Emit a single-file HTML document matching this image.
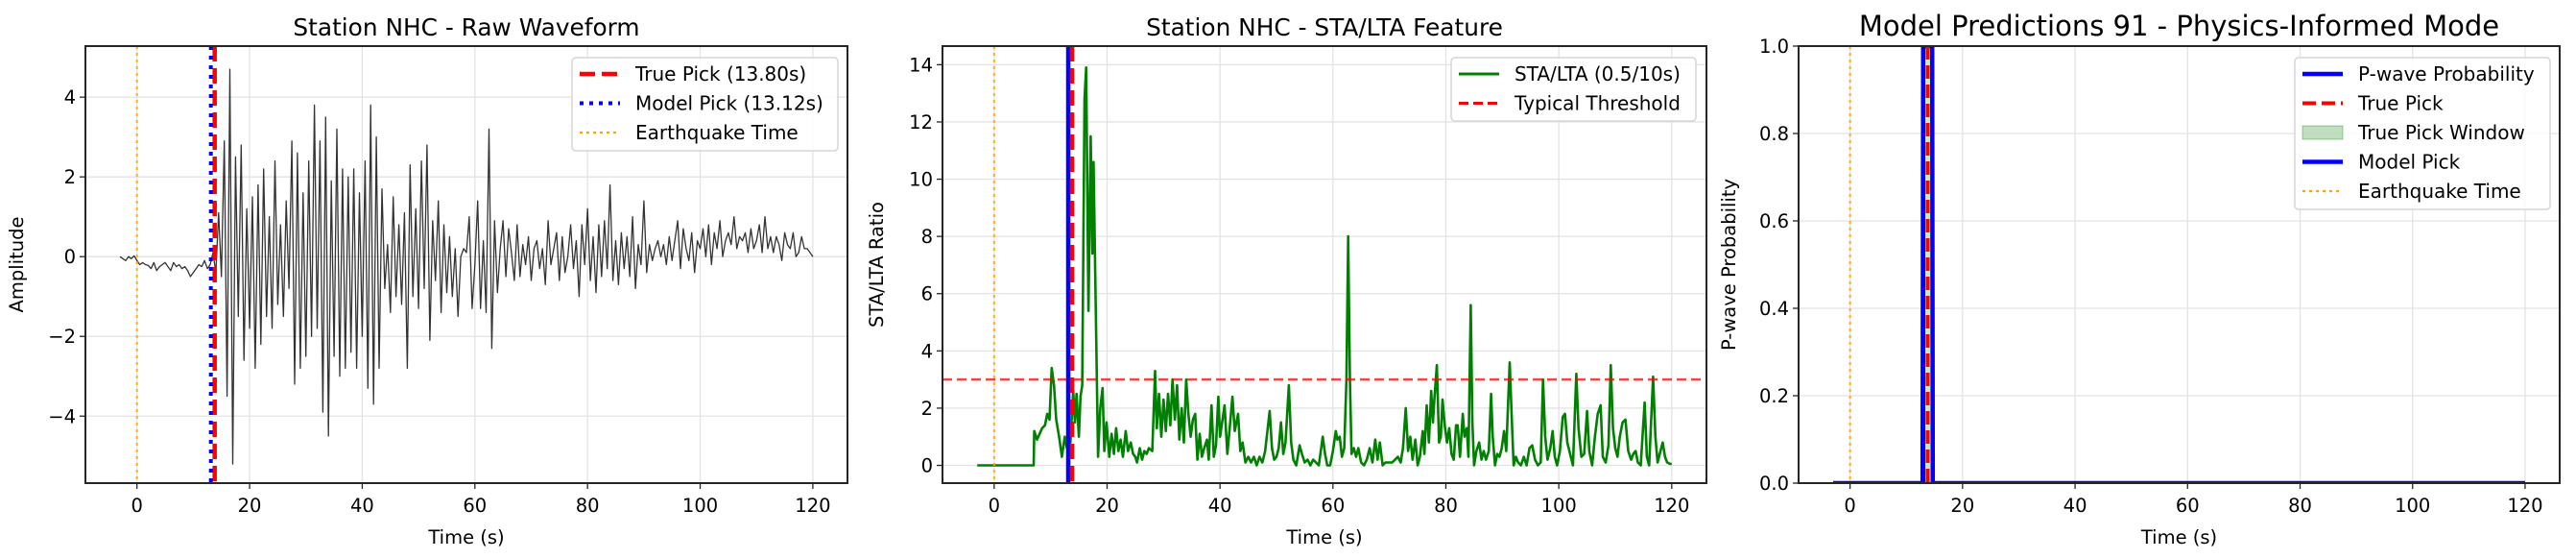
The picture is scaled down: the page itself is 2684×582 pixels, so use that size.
<!DOCTYPE html>
<html><head><meta charset="utf-8">
<style>
html,body{margin:0;padding:0;background:#fff;}
svg{display:block;font-family:"DejaVu Sans","Liberation Sans",sans-serif;}
</style></head>
<body>
<svg id="fig" xmlns="http://www.w3.org/2000/svg" width="2684" height="582" viewBox="0 0 2684 582"></svg>
<script>
// ---------- DATA ----------
const waveStart = -3;
const waveStep = 0.5;
const waveAmp = [0,-0.05,-0.1,0,-0.05,0.02,-0.1,-0.2,-0.15,-0.2,-0.22,-0.3,-0.15,-0.35,-0.25,-0.2,-0.15,-0.25,-0.35,-0.15,-0.25,-0.2,-0.3,-0.25,-0.35,-0.5,-0.4,-0.3,-0.2,-0.25,-0.1,-0.3,-0.2,0.1,-0.4,
1.1,-0.5,2.9,-3.5,4.7,-5.2,2.5,-1.5,2.8,-2.6,1.2,-1.8,1.5,-2.8,1.8,-2.2,2.2,-1.5,1.0,-1.8,2.4,-1.2,0.8,-1.5,1.4,-0.8,2.9,-3.2,2.6,-2.8,1.6,-2.5,2.4,-2.0,3.8,-1.8,2.9,-3.9,3.5,-4.5,1.9,-2.5,3.2,-3.0,2.2,-2.8,2.0,-2.4,2.2,-2.8,1.6,-2.0,2.4,-3.3,3.8,-3.7,3.0,-2.8,1.7,-0.8,0.3,-1.4,1.5,-1.0,0.8,-1.2,1.1,-2.8,2.3,-1.0,1.2,-1.3,2.4,-0.8,2.8,-2.1,0.9,-0.6,1.4,-1.4,0.8,-0.9,0.5,-1.0,0.2,-1.5,0.0,0.2,0.1,1.0,-1.3,-0.2,1.4,-1.3,0.4,-1.4,3.2,-2.3,0.9,-0.9,0.2,0.9,-0.5,0.7,0.1,-0.6,0.8,-0.5,0.3,-0.2,0.5,-0.6,0.2,0.4,-0.3,0.2,-0.7,0.9,-0.2,0.2,0.6,-0.6,0.5,-0.4,0.0,0.8,-0.3,0.4,-1.0,0.8,-0.2,1.2,-0.6,0.5,-0.9,0.8,-0.5,0.9,-0.3,1.8,-0.6,0.4,-0.7,0.6,-0.3,0.5,-0.5,1.0,-0.8,0.3,-0.2,1.4,-0.4,0.3,-0.1,0.2,0.4,0.0,0.3,-0.2,0.5,-0.1,0.4,0.9,-0.3,0.7,0.2,-0.1,0.6,-0.4,0.4,0.2,0.7,0.0,0.8,-0.2,0.6,0.2,0.9,0.0,0.4,0.6,0.3,1.0,0.2,0.5,0.4,0.6,0.1,0.7,0.2,0.4,0.8,0.1,1.0,0.2,0.5,0.1,0.5,0.3,-0.1,0.6,0.3,0.2,0.6,0.0,0.1,0.5,0.2,0.2,0.1,0.0];

const staTime = [-3,7,7.1,7.6,8.5,9,9.4,9.8,10.2,10.6,11,11.5,12,12.5,12.9,13.5,14,14.3,14.6,15,15.3,15.6,16,16.3,16.7,17.1,17.4,17.6,17.9,18.4,18.8,19.2,19.5,19.9,20.4,20.8,21.2,21.6,22,22.4,22.8,23.3,23.7,24.2,24.6,25,25.3,25.8,26.2,26.6,27,27.4,28,28.5,28.8,29.2,29.6,30,30.4,30.8,31.2,31.6,32,32.4,32.8,33.2,33.6,34,34.4,34.8,35.2,35.6,36,36.4,36.8,37.2,37.7,38,38.5,38.9,39.3,39.7,
40,40.8,41.3,41.8,42.2,42.6,43.2,43.6,44,44.5,45,45.5,46,46.5,47,47.5,48,48.8,49.2,49.6,50,50.4,50.8,51.2,51.6,52.2,52.6,53,53.5,54.1,54.5,55,55.5,56,56.5,57,57.5,58.2,58.6,59,59.5,60,60.5,60.8,61.2,61.6,62,62.4,62.7,63,63.3,63.7,64.1,64.5,65,65.5,66,66.5,67,67.5,67.9,68.3,68.8,69.3,70,70.5,71,71.5,72,72.4,72.9,73.3,73.7,74.1,74.6,75,75.4,75.9,76.2,76.6,77,77.4,77.7,78,78.4,78.8,79.1,79.4,79.8,80.2,80.6,81,81.4,81.8,82.1,82.5,83,83.3,83.7,84,84.4,84.7,85,85.4,85.9,86.3,86.7,87.1,87.6,88,88.3,88.7,89.1,89.5,89.9,90.3,90.7,91.3,91.7,92,92.4,92.8,93.3,93.8,94.3,94.8,95.3,95.8,96.3,96.8,97.2,97.6,98,98.5,98.9,99.3,99.7,100.2,100.7,101.1,101.5,102,102.5,103.1,103.5,104,104.5,105,105.4,105.9,106.4,106.9,107.4,107.8,108.3,108.8,109.2,109.6,110,110.4,110.8,111.3,111.8,112.3,112.8,113.2,113.6,114,114.5,115.2,115.6,116,116.7,117.1,117.5,118,118.4,118.8,119.2,119.7,120];
const staRatio = [0,0,1.2,0.9,1.3,1.4,1.8,1.6,3.4,2.8,1.6,1.0,0.3,1.0,0.6,0.8,2.6,1.5,2.5,1.0,2.4,2.8,12.8,13.9,5.4,11.5,7.4,10.6,6.8,0.3,2.0,2.7,0.5,1.5,0.3,1.1,0.4,1.3,0.5,0.9,0.3,1.2,0.5,0.8,0.4,0.3,0.1,0.6,0.2,0.5,0.4,0.6,0.5,3.3,1.3,2.5,1.0,2.3,1.2,2.5,1.4,3.0,1.6,2.8,0.9,2.0,0.8,3.0,1.8,1.0,1.6,1.8,0.2,1.1,0.3,0.6,0.9,0.2,2.1,0.3,0.7,2.4,
1.0,2.1,0.4,1.5,2.4,1.2,1.8,0.5,0.8,0.1,0.3,0.1,0.3,0.0,0.3,0.1,0.5,1.9,0.6,0.2,0.3,0.6,1.5,0.4,0.8,2.8,0.8,0.2,0.0,0.7,0.4,0.1,0.2,0.0,0.2,0.1,0.0,1.0,0.4,0.0,0.0,0.5,1.2,0.9,1.0,0.3,0.6,3.0,8.0,3.0,0.4,0.6,0.3,0.6,0.1,0.0,0.2,0.6,0.1,0.9,0.2,0.8,0.0,0.1,0.1,0.1,0.2,0.3,0.1,0.6,2.0,0.5,1.0,0.2,0.9,0.0,0.3,1.2,0.4,2.1,0.8,2.6,1.5,2.4,3.5,0.8,1.0,2.3,1.4,0.8,1.3,0.4,0.2,1.4,1.4,0.3,1.8,1.0,1.3,0.3,5.6,1.5,0.0,0.5,0.8,0.2,0.5,0.2,0.5,2.5,1.0,0.0,0.4,0.3,0.6,1.2,0.5,3.6,1.5,0.0,0.3,0.1,0.0,0.3,0.0,0.6,0.7,0.2,0.0,0.1,3.0,1.0,0.2,0.6,1.2,0.3,0.0,0.5,1.7,1.8,0.8,0.4,0.0,3.2,1.3,0.3,0.4,1.9,0.5,0.0,1.0,1.8,2.1,0.3,0.1,0.7,3.5,1.3,0.6,0.3,1.0,1.5,1.6,0.5,0.2,0.4,0.5,0.1,0.0,2.2,0.3,0.0,3.1,1.0,0.1,0.5,0.8,0.3,0.1,0.05,0.05];

const probTime = [-3,12.9,13.0,14.6,14.7,120];
const probValue = [0,0,1,1,0,0];

const truePick = 13.80;
const modelPick = 13.12;
const quakeTime = 0;
const threshold = 3;
const windowRange = [13.3, 14.3];

const xTicks = [0,20,40,60,80,100,120];
const waveYTicks = [-4,-2,0,2,4];
const waveYTickLabels = ["\u22124","\u22122","0","2","4"];
const staYTicks = [0,2,4,6,8,10,12,14];
const probYTicks = [0,0.2,0.4,0.6,0.8,1.0];
const probYTickLabels = ["0.0","0.2","0.4","0.6","0.8","1.0"];

// ---------- HELPERS ----------
const NS = "http://www.w3.org/2000/svg";
const fig = document.getElementById('fig');
function el(tag, attrs, parent){
  const e = document.createElementNS(NS, tag);
  for (const k in attrs) e.setAttribute(k, attrs[k]);
  (parent||fig).appendChild(e);
  return e;
}
function makeAxes(L, R, T, B, xmin, xmax, ymin, ymax){
  return {
    x: v => L + (v - xmin) / (xmax - xmin) * (R - L),
    y: v => B - (v - ymin) / (ymax - ymin) * (B - T),
    L, R, T, B
  };
}
function drawFrame(ax, name, yTicks, yLabels, title, titleSize, ylabel, ylabelX){
  const g = el('g', {});
  
  
  const clipId = name + '-clip';
  const cp = el('clipPath', {id: clipId}, g);
  el('rect', {x: ax.L, y: ax.T, width: ax.R-ax.L, height: ax.B-ax.T}, cp);
  xTicks.forEach(t => {
    const ln = el('line', {x1: ax.x(t), x2: ax.x(t), y1: ax.T, y2: ax.B, stroke: '#e3e3e3', 'stroke-width': 1.3}, g);
    
    
  });
  yTicks.forEach(t => {
    const ln = el('line', {x1: ax.L, x2: ax.R, y1: ax.y(t), y2: ax.y(t), stroke: '#e3e3e3', 'stroke-width': 1.3}, g);
    
    
  });
  const plot = el('g', {'clip-path': 'url(#' + clipId + ')'}, g);
  xTicks.forEach(t => {
    el('line', {x1: ax.x(t), x2: ax.x(t), y1: ax.B, y2: ax.B+6, stroke: '#262626', 'stroke-width': 1.3}, g);
    const tx = el('text', {x: ax.x(t), y: ax.B+30, 'font-size': 19.5, 'text-anchor': 'middle', fill: '#000'}, g);
    tx.textContent = t;
    
    
  });
  yTicks.forEach((t,i) => {
    el('line', {x1: ax.L-6, x2: ax.L, y1: ax.y(t), y2: ax.y(t), stroke: '#262626', 'stroke-width': 1.3}, g);
    const tx = el('text', {x: ax.L-10, y: ax.y(t)+7, 'font-size': 19.5, 'text-anchor': 'end', fill: '#000'}, g);
    tx.textContent = yLabels ? yLabels[i] : t;
    
    
  });
  const ttl = el('text', {x: (ax.L+ax.R)/2, y: 37, 'font-size': titleSize, 'text-anchor': 'middle', fill: '#000'}, g);
  ttl.textContent = title;
  
  
  const xl = el('text', {x: (ax.L+ax.R)/2, y: 566, 'font-size': 19.5, 'text-anchor': 'middle', fill: '#000'}, g);
  xl.textContent = 'Time (s)';
  
  
  const cy = (ax.T+ax.B)/2;
  const yl = el('text', {x: ylabelX, y: cy, 'font-size': 19.5, 'text-anchor': 'middle', fill: '#000', transform: 'rotate(-90 ' + ylabelX + ' ' + cy + ')'}, g);
  yl.textContent = ylabel;
  
  
  return {g, plot};
}
function drawBorder(ax, g){
  const r = el('rect', {x: ax.L, y: ax.T, width: ax.R-ax.L, height: ax.B-ax.T, fill: 'none', stroke: '#262626', 'stroke-width': 2}, g);
  
  
}
function vline(ax, parent, t, color, width, dash, name){
  const ln = el('line', {x1: ax.x(t), x2: ax.x(t), y1: ax.T, y2: ax.B, stroke: color, 'stroke-width': width}, parent);
  if (dash) ln.setAttribute('stroke-dasharray', dash);
  
  
  return ln;
}
function legend(x, y, w, h, entries, name){
  const g = el('g', {});
  
  
  el('rect', {x, y, width: w, height: h, rx: 4, fill: '#fff', 'fill-opacity': 0.85, stroke: '#d6d6d6', 'stroke-width': 1.5}, g);
  entries.forEach((e, i) => {
    const cy = y + 17 + i*30.5;
    if (e.patch) {
      el('rect', {x: x+8, y: cy-7, width: 42, height: 14, fill: e.color, 'fill-opacity': 0.25, stroke: e.color, 'stroke-opacity': 0.35}, g);
    } else {
      const ln = el('line', {x1: x+8, x2: x+50, y1: cy, y2: cy, stroke: e.color, 'stroke-width': e.w}, g);
      if (e.dash) ln.setAttribute('stroke-dasharray', e.dash);
    }
    const t = el('text', {x: x+66, y: cy+7, 'font-size': 20, fill: '#000'}, g);
    t.textContent = e.label;
    
    
  });
}

// ---------- PANEL 1: waveform ----------
(function(){
  const ax = makeAxes(89, 883, 48, 503, -9.15, 126.15, -5.68, 5.28);
  const {g, plot} = drawFrame(ax, 'raw-waveform-panel', waveYTicks, waveYTickLabels, 'Station NHC - Raw Waveform', 24.8, 'Amplitude', 24);
  let d = '';
  waveAmp.forEach((v, i) => {
    const t = waveStart + i*waveStep;
    d += (i ? 'L' : 'M') + ax.x(t).toFixed(1) + ' ' + ax.y(v).toFixed(1);
  });
  const p = el('path', {d, fill: 'none', stroke: '#000', 'stroke-opacity': 0.8, 'stroke-width': 1.3, 'stroke-linejoin': 'round'}, plot);
  
  
  vline(ax, plot, truePick, '#ff0000', 4.5, '16,7', 'true-pick-line');
  vline(ax, plot, modelPick, '#0000ff', 4, '4,6', 'model-pick-line');
  vline(ax, plot, quakeTime, 'orange', 2.2, '3,4', 'earthquake-time-line').setAttribute('stroke-opacity', 0.8);
  drawBorder(ax, g);
  legend(596, 60, 277, 97, [
    {label: 'True Pick (13.80s)', color: '#ff0000', w: 4.5, dash: '16,7'},
    {label: 'Model Pick (13.12s)', color: '#0000ff', w: 4, dash: '4,6'},
    {label: 'Earthquake Time', color: 'orange', w: 2.2, dash: '3,4'}
  ], 'waveform-legend');
})();

// ---------- PANEL 2: STA/LTA ----------
(function(){
  const ax = makeAxes(982, 1778, 48, 503, -9.15, 126.15, -0.62, 14.65);
  const {g, plot} = drawFrame(ax, 'sta-lta-panel', staYTicks, null, 'Station NHC - STA/LTA Feature', 24.8, 'STA/LTA Ratio', 920);
  let d = '';
  staTime.forEach((t, i) => {
    d += (i ? 'L' : 'M') + ax.x(t).toFixed(1) + ' ' + ax.y(staRatio[i]).toFixed(1);
  });
  const p = el('path', {d, fill: 'none', stroke: 'green', 'stroke-width': 2.6, 'stroke-linejoin': 'round'}, plot);
  
  
  const th = el('line', {x1: ax.L, x2: ax.R, y1: ax.y(threshold), y2: ax.y(threshold), stroke: '#ff0000', 'stroke-opacity': 0.75, 'stroke-width': 2.6, 'stroke-dasharray': '10,5'}, plot);
  
  
  vline(ax, plot, modelPick, '#0000ff', 4.5, null, 'model-pick-line');
  vline(ax, plot, truePick, '#ff0000', 4.5, '16,7', 'true-pick-line');
  vline(ax, plot, quakeTime, 'orange', 2.2, '3,4', 'earthquake-time-line').setAttribute('stroke-opacity', 0.8);
  drawBorder(ax, g);
  legend(1512, 60, 255, 66, [
    {label: 'STA/LTA (0.5/10s)', color: 'green', w: 3},
    {label: 'Typical Threshold', color: '#ff0000', w: 3, dash: '10,5'}
  ], 'sta-lta-legend');
})();

// ---------- PANEL 3: predictions ----------
(function(){
  const ax = makeAxes(1874, 2667, 48, 503, -9.15, 126.15, 0, 1);
  const {g, plot} = drawFrame(ax, 'prediction-panel', probYTicks, probYTickLabels, 'Model Predictions 91 - Physics-Informed Mode', 29, 'P-wave Probability', 1808);
  const win = el('rect', {x: ax.x(windowRange[0]), y: ax.T, width: ax.x(windowRange[1]) - ax.x(windowRange[0]), height: ax.B-ax.T, fill: 'green', 'fill-opacity': 0.2}, plot);
  
  
  let d = '';
  probTime.forEach((t, i) => {
    d += (i ? 'L' : 'M') + ax.x(t).toFixed(1) + ' ' + ax.y(probValue[i]).toFixed(1);
  });
  const p = el('path', {d, fill: 'none', stroke: '#0000ff', 'stroke-width': 4.5}, plot);
  
  
  vline(ax, plot, truePick, '#ff0000', 4, '14,6', 'true-pick-line');
  vline(ax, plot, modelPick, '#0000ff', 3, null, 'model-pick-line');
  vline(ax, plot, quakeTime, 'orange', 2.2, '3,4', 'earthquake-time-line').setAttribute('stroke-opacity', 0.8);
  drawBorder(ax, g);
  legend(2391, 60, 266, 158, [
    {label: 'P-wave Probability', color: '#0000ff', w: 4.5},
    {label: 'True Pick', color: '#ff0000', w: 4, dash: '14,6'},
    {label: 'True Pick Window', color: 'green', patch: true},
    {label: 'Model Pick', color: '#0000ff', w: 4.5},
    {label: 'Earthquake Time', color: 'orange', w: 2.2, dash: '3,4'}
  ], 'prediction-legend');
})();
</script>
</body></html>
